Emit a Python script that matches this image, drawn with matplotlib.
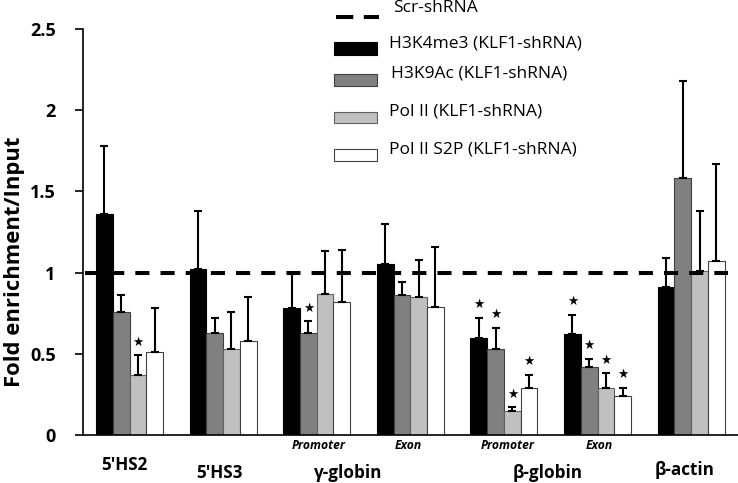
import matplotlib
matplotlib.use("Agg")
import matplotlib.pyplot as plt
import numpy as np
from matplotlib.patches import Rectangle
from matplotlib.lines import Line2D
import matplotlib.transforms as mtransforms

plt.rcParams['font.family'] = ['Open Sans', 'DejaVu Sans']

# ---- data ----
groups = ["5'HS2", "5'HS3", "γ-globin Promoter", "γ-globin Exon",
          "β-globin Promoter", "β-globin Exon", "β-actin"]
series = ["H3K4me3 (KLF1-shRNA)", "H3K9Ac (KLF1-shRNA)",
          "Pol II (KLF1-shRNA)", "Pol II S2P (KLF1-shRNA)"]
h3k4me3 = [1.36, 1.02, 0.78, 1.05, 0.60, 0.62, 0.91]
h3k4me3_err = [0.42, 0.36, 0.21, 0.25, 0.12, 0.12, 0.18]
h3k9ac = [0.76, 0.63, 0.63, 0.86, 0.53, 0.42, 1.58]
h3k9ac_err = [0.10, 0.09, 0.07, 0.08, 0.13, 0.05, 0.60]
pol2 = [0.37, 0.53, 0.87, 0.85, 0.15, 0.29, 1.01]
pol2_err = [0.12, 0.23, 0.26, 0.23, 0.02, 0.09, 0.37]
pol2s2p = [0.51, 0.58, 0.82, 0.79, 0.29, 0.24, 1.07]
pol2s2p_err = [0.27, 0.27, 0.32, 0.37, 0.08, 0.05, 0.60]
h3k4me3_sig = [0, 0, 0, 0, 1, 1, 0]
h3k9ac_sig = [0, 0, 1, 0, 1, 1, 0]
pol2_sig = [1, 0, 0, 0, 1, 1, 0]
pol2s2p_sig = [0, 0, 0, 0, 1, 1, 0]
scr_level = 1.0
yticks = [0, 0.5, 1, 1.5, 2, 2.5]
ytick_labels = ["0", "0.5", "1", "1.5", "2", "2.5"]

vals = [h3k4me3, h3k9ac, pol2, pol2s2p]
errs = [h3k4me3_err, h3k9ac_err, pol2_err, pol2s2p_err]
sigs = [h3k4me3_sig, h3k9ac_sig, pol2_sig, pol2s2p_sig]
colors = ["#000000", "#808080", "#c0c0c0", "#ffffff"]
edges = ["#000000", "#404040", "#606060", "#404040"]

W, H = 738, 483
fig = plt.figure(figsize=(W / 100, H / 100), dpi=100)
ax = fig.add_axes([82.7 / W, 1 - 435 / H, (W - 82.7) / W, (435 - 29) / H])

x = np.arange(len(groups))
bw = 0.179
for i in range(4):
    xi = x + (i - 1.5) * bw
    ax.bar(xi, vals[i], width=bw, color=colors[i], edgecolor=edges[i],
           linewidth=0.8, zorder=2)
    ax.errorbar(xi, vals[i], yerr=[np.zeros(len(groups)), errs[i]], fmt='none',
                ecolor='black', elinewidth=1.5, capsize=2.6, capthick=1.5, zorder=4)
    for j in range(len(groups)):
        if sigs[i][j]:
            ax.annotate("★", xy=(xi[j], vals[i][j] + errs[i][j]), xytext=(0, 9.5),
                        textcoords='offset points', ha='center', va='center',
                        fontsize=9, family=['DejaVu Sans'], zorder=5)

ax.axhline(scr_level, xmin=0.003, xmax=0.984, color='black', lw=2.9,
           dashes=(3.5, 2.75), zorder=3)

ax.set_xlim(-0.5, 6.5)
ax.set_ylim(0, 2.5)
ax.set_yticks(yticks)
ax.set_yticklabels(ytick_labels, fontsize=13, fontweight='bold')
ax.tick_params(axis='y', length=5.5, width=1.2, pad=14)
ax.set_xticks([])
for s in ['top', 'right']:
    ax.spines[s].set_visible(False)
for s in ['left', 'bottom']:
    ax.spines[s].set_linewidth(1.2)

fig.text(15 / W, 1 - 262 / H, "Fold enrichment/Input", rotation=90, ha='center',
         va='center', fontsize=15.8, fontweight='bold')

# x-axis category labels
trans = mtransforms.blended_transform_factory(ax.transData, ax.transAxes)
main_labels = [("5'HS2", -0.055, -0.074), ("5'HS3", 0.956, -0.094),
               ("γ-globin", 2.334, -0.094), ("β-globin", 4.462, -0.094),
               ("β-actin", 5.926, -0.086)]
for txt, xx, yy in main_labels:
    ax.text(xx, yy, txt, transform=trans, ha='center', va='center',
            fontsize=12.3, fontweight='bold')
sub_labels = [("Promoter", 2.02), ("Exon", 2.976), ("Promoter", 4.045), ("Exon", 5.015)]
for txt, xx in sub_labels:
    ax.text(xx, -0.027, txt, transform=trans, ha='center', va='center',
            fontsize=8.7, fontweight='bold', style='italic')

# legend (manual)
def fx(px):
    return px / W

def fy(py):
    return 1 - py / H

fig.add_artist(Line2D([fx(336), fx(379)], [fy(17), fy(17)], color='black', lw=2.9,
                      dashes=(4.3, 2.6), transform=fig.transFigure))
fig.text(fx(392.7), fy(8), "Scr-shRNA", ha='left', va='center', fontsize=12.5)
patch_y = [(42, 55), (74, 86), (112, 123), (149, 161)]
text_y = [43, 73, 112, 149]
text_x = [389.3, 390.7, 389.3, 389.3]
for i in range(4):
    y0, y1 = patch_y[i]
    fig.add_artist(Rectangle((fx(334), fy(y1)), fx(377) - fx(334), fy(y0) - fy(y1),
                             facecolor=colors[i], edgecolor=edges[i], lw=0.8,
                             transform=fig.transFigure))
    fig.text(fx(text_x[i]), fy(text_y[i]), series[i], ha='left', va='center',
             fontsize=12.5)

fig.savefig("out.png", dpi=100)
